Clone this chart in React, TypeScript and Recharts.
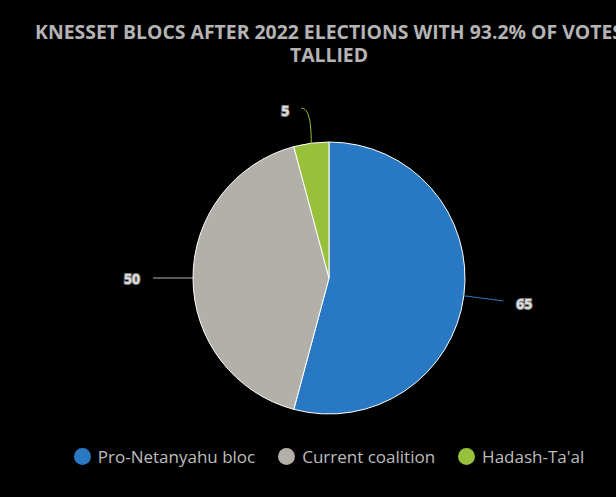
import React from 'react';
import { PieChart, Pie, Cell } from 'recharts';

// blocs after 2022 election, 93.2% counted
const blocs = ['Pro-Netanyahu bloc', 'Current coalition', 'Hadash-Ta\'al'];
const seats = [65, 50, 5];
const COLORS = ['#2878c3', '#b3b0aa', '#97c03b'];

const data = blocs.map((name, i) => ({ name, seats: seats[i] }));

const RADIAN = Math.PI / 180;
const FONT = '"Open Sans", "Noto Sans", sans-serif';

type LabelProps = {
  cx: number;
  cy: number;
  midAngle: number;
  outerRadius: number;
  index: number;
  value: number;
};

const renderLabel = ({ cx, cy, midAngle, outerRadius, index, value }: LabelProps) => {
  const cos = Math.cos(-midAngle * RADIAN);
  const sin = Math.sin(-midAngle * RADIAN);
  const sx = cx + outerRadius * cos;
  const sy = cy + outerRadius * sin;
  let ex = cx + (outerRadius + 40) * cos;
  let ey = cy + (outerRadius + 40) * sin;
  let lx = cx + (outerRadius + 61) * cos;
  let ly = cy + (outerRadius + 61) * sin;
  let path = `M${sx},${sy}L${ex},${ey}`;
  if (seats[index] < 10) {
    // small slice near the top: bend the connector over to the left
    ex = sx - 10;
    ey = sy - 35;
    path = `M${sx},${sy}C${sx},${sy - 20} ${sx - 2},${ey} ${ex},${ey}`;
    lx = ex - 16;
    ly = ey + 2;
  }
  return (
    <g>
      <path d={path} stroke={COLORS[index]} strokeWidth={1} fill="none" />
      <text
        x={lx}
        y={ly}
        textAnchor="middle"
        dominantBaseline="central"
        fontFamily={FONT}
        fontWeight="bold"
        fontSize={14}
        fill="#dedede"
        stroke="#808080"
        strokeWidth={2}
        paintOrder="stroke"
      >
        {value}
      </text>
    </g>
  );
};

const LegendRow = () => (
  <div
    style={{
      position: 'absolute',
      top: 445,
      left: 0,
      width: 658,
      display: 'flex',
      justifyContent: 'center',
      alignItems: 'center',
      fontFamily: FONT,
      fontSize: 17,
      color: '#bdbdbd',
    }}
  >
    {blocs.map((name, i) => (
      <div key={name} style={{ display: 'flex', alignItems: 'center', marginLeft: i === 0 ? 0 : 23 }}>
        <span
          style={{
            width: 17,
            height: 17,
            borderRadius: '50%',
            background: COLORS[i],
            display: 'inline-block',
            marginRight: 7,
          }}
        />
        <span>{name}</span>
      </div>
    ))}
  </div>
);

export default function App() {
  return (
    <div
      style={{
        position: 'absolute',
        top: 0,
        left: 0,
        width: 616,
        height: 497,
        background: '#000',
        overflow: 'hidden',
      }}
    >
      <div
        style={{
          position: 'absolute',
          top: 20,
          left: 0,
          width: 658,
          textAlign: 'center',
          whiteSpace: 'nowrap',
          fontFamily: FONT,
          fontWeight: 'bold',
          fontSize: 19.4,
          lineHeight: '23px',
          color: '#b4b4b4',
        }}
      >
        KNESSET BLOCS AFTER 2022 ELECTIONS WITH 93.2% OF VOTES
        <br />
        TALLIED
      </div>
      <PieChart
        width={658}
        height={497}
        margin={{ top: 0, right: 0, bottom: 0, left: 0 }}
        style={{ position: 'absolute', top: 0, left: 0 }}
      >
        <Pie
          data={data}
          dataKey="seats"
          nameKey="name"
          cx={329}
          cy={278}
          outerRadius={136}
          startAngle={90}
          endAngle={-270}
          stroke="#ffffff"
          strokeWidth={1}
          label={renderLabel}
          labelLine={false}
          isAnimationActive={false}
        >
          {data.map((entry, index) => (
            <Cell key={`cell-${index}`} fill={COLORS[index]} />
          ))}
        </Pie>
      </PieChart>
      <LegendRow />
    </div>
  );
}
